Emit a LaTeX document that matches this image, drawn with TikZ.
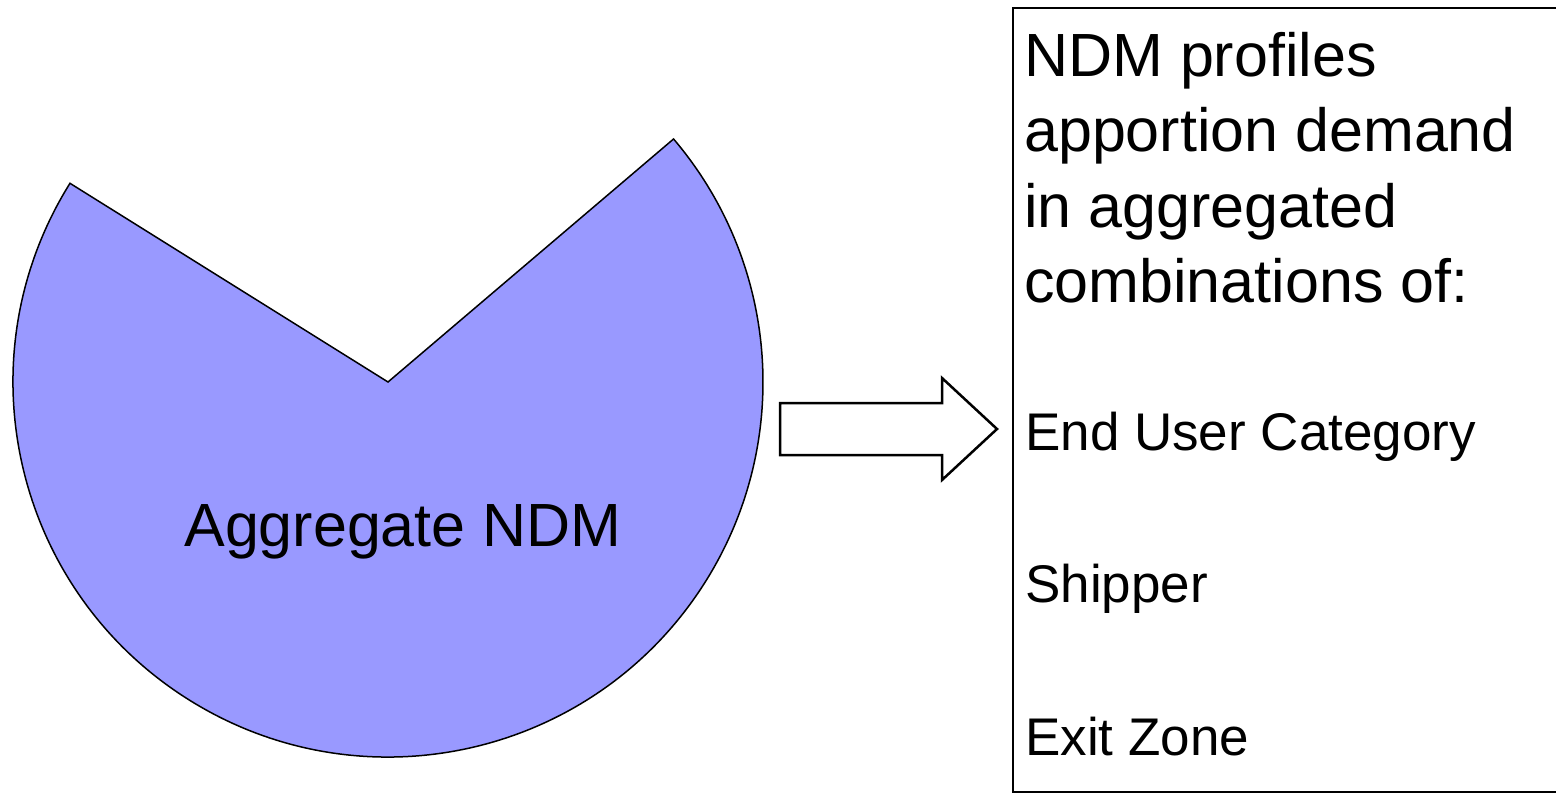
\documentclass[tikz,border=0pt]{standalone}
\usepackage{fontspec}
\setmainfont{Liberation Sans}
\usetikzlibrary{calc}
\definecolor{piefill}{HTML}{9999FF}
\begin{document}
\begin{tikzpicture}[x=1pt,y=-1pt,
  pie/.style={fill=piefill,draw=black,line width=1.5pt,line join=miter},
  blockarrow/.style={fill=white,draw=black,line width=2.5pt,line join=miter},
  panel/.style={draw=black,line width=2pt},
  bigtext/.style={anchor=base west,inner sep=0pt,font=\fontsize{61}{73}\selectfont},
  smalltext/.style={anchor=base west,inner sep=0pt,font=\fontsize{53}{64}\selectfont},
  pielabel/.style={anchor=base,inner sep=0pt,font=\fontsize{61}{73}\selectfont}]
\useasboundingbox (0,0) rectangle (1556,793);
% pie with cut-out wedge
\coordinate (c) at (388,382);
\draw[pie] (c) -- ($(c)+(212:375)$) arc[start angle=212,end angle=-40.4,radius=375] -- cycle;
\node[pielabel] (agg) at (403,546) {Aggregate NDM};
% block arrow
\draw[blockarrow] (780,403) -- (942,403) -- (942,378) -- (997,429) -- (942,480) -- (942,455) -- (780,455) -- cycle;
% text panel (right side runs past the picture edge)
\coordinate (pr1) at (1556,8);
\coordinate (pr2) at (1556,792);
\draw[panel] (pr1) -- (1013,8) -- (1013,792) -- (pr2);
\node[bigtext] (l1) at (1024,76) {NDM profiles};
\node[bigtext] (l2) at (1024,151.5) {apportion demand};
\node[bigtext] (l3) at (1024,227) {in aggregated};
\node[bigtext] (l4) at (1024,302.5) {combinations of:};
\node[smalltext] (i1) at (1025,450) {End User Category};
\node[smalltext] (i2) at (1025,602) {Shipper};
\node[smalltext] (i3) at (1025,755) {Exit Zone};
\end{tikzpicture}
\end{document}
